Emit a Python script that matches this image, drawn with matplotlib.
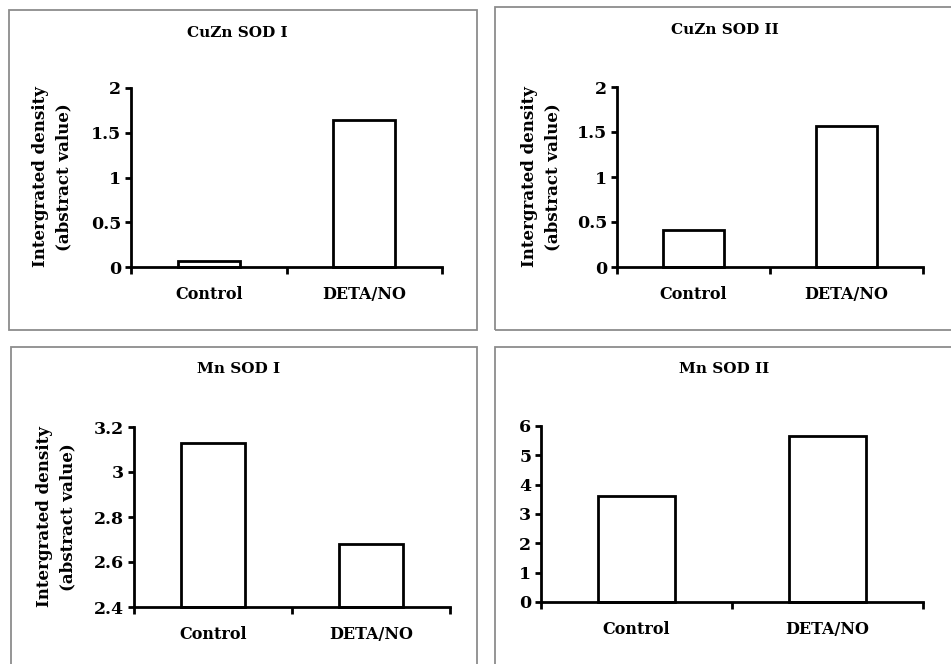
import matplotlib
matplotlib.use("Agg")
import matplotlib.pyplot as plt
from matplotlib.patches import Rectangle

# data
categories = ["Control", "DETA/NO"]
titles = ["CuZn SOD I", "CuZn SOD II", "Mn SOD I", "Mn SOD II"]
cuzn_sod1 = [0.07, 1.64]
cuzn_sod2 = [0.41, 1.57]
mn_sod1 = [3.13, 2.68]
mn_sod2 = [3.6, 5.66]
yticks_01 = [0, 0.5, 1, 1.5, 2]
yticklabels_01 = ["0", "0.5", "1", "1.5", "2"]
yticks_mn1 = [2.4, 2.6, 2.8, 3.0, 3.2]
yticklabels_mn1 = ["2.4", "2.6", "2.8", "3", "3.2"]
yticks_mn2 = [0, 1, 2, 3, 4, 5, 6]
yticklabels_mn2 = ["0", "1", "2", "3", "4", "5", "6"]
ylabel = "Intergrated density\n(abstract value)"

W, H = 951, 664
plt.rcParams['font.family'] = ['DejaVu Serif']
plt.rcParams['font.weight'] = 'bold'

fig = plt.figure(figsize=(W / 100, H / 100), dpi=100)
fig.patch.set_facecolor("white")


def px_box(left, top, right, bottom):
    return [left / W, 1 - bottom / H, (right - left) / W, (bottom - top) / H]


# grey frames around each chart (pixel boxes)
frames = [(9, 10, 477, 330), (495, 7, 958, 330), (11, 347, 477, 672), (495, 347, 958, 672)]
for l, t, r, b in frames:
    fig.patches.append(Rectangle((l / W, 1 - b / H), (r - l) / W, (b - t) / H,
                                 transform=fig.transFigure, fill=False,
                                 edgecolor="#8c8c8c", linewidth=1.3))

panels = [
    (cuzn_sod1, (0, 2), yticks_01, yticklabels_01, (131, 88, 442, 267), (237, 33), (52, 177)),
    (cuzn_sod2, (0, 2), yticks_01, yticklabels_01, (617, 87, 923, 267), (725, 30), (541, 177)),
    (mn_sod1, (2.4, 3.2), yticks_mn1, yticklabels_mn1, (134, 427, 450, 607), (239, 369), (56, 517)),
    (mn_sod2, (0, 6), yticks_mn2, yticklabels_mn2, (541, 426, 923, 602), (724, 369), None),
]

for i, (vals, ylim, yt, ytl, box, tpos, lpos) in enumerate(panels):
    ax = fig.add_axes(px_box(*box))
    x = range(len(categories))
    ax.bar(x, [v - ylim[0] for v in vals], bottom=ylim[0], width=0.4,
           color="white", edgecolor="black", linewidth=2.0, clip_on=False)
    ax.set_xlim(-0.5, len(categories) - 0.5)
    ax.set_ylim(*ylim)
    for s in ["top", "right"]:
        ax.spines[s].set_visible(False)
    for s in ["left", "bottom"]:
        ax.spines[s].set_linewidth(2.0)
        ax.spines[s].set_color("black")
    ax.set_yticks(yt)
    ax.set_yticklabels(ytl, fontsize=12.5, fontweight="bold")
    ax.set_xticks([-0.5, 0.5, 1.5])
    ax.set_xticklabels([])
    ax.set_xticks(list(x), minor=True)
    ax.set_xticklabels(categories, minor=True, fontsize=11.5, fontweight="bold")
    ax.tick_params(axis="x", which="major", direction="out", length=5, width=2.0)
    ax.tick_params(axis="x", which="minor", length=0, pad=14)
    ax.tick_params(axis="y", direction="out", length=4, width=2.0, pad=3)
    fig.text(tpos[0] / W, 1 - tpos[1] / H, titles[i], ha="center", va="center",
             fontsize=11, fontweight="bold")
    if lpos is not None:
        fig.text(lpos[0] / W, 1 - lpos[1] / H, ylabel, rotation=90, ha="center",
                 va="center", multialignment="center", fontsize=12,
                 fontweight="bold", linespacing=1.45)

fig.savefig("out.png", dpi=100, facecolor="white")
